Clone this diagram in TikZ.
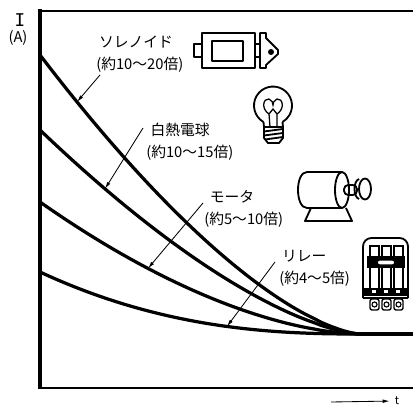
\documentclass[tikz,border=0pt]{standalone}
\usepackage{fontspec}
\usepackage{tikz}
\usetikzlibrary{arrows.meta,positioning}
\newfontfamily\jpfont{Noto Sans CJK JP}
\newfontfamily\iafont{DejaVu Sans Mono}

\begin{document}
\begin{tikzpicture}[
			x=0.025cm, y=-0.025cm,
			every node/.style={font=\jpfont\fontsize{10.5}{15.6}\selectfont, inner sep=0pt},
			lbl/.style={anchor=north west, align=left},
			curve/.style={line width=2.3pt, line join=round},
			lead/.style={line width=0.6pt, -{Latex[length=5pt,width=2.6pt]}},
			icon/.style={line width=1.3pt, line join=round},
			declare function = {fsol(\x) = 334 - 279*(1-(\x-40)/320)^1.5;},
			declare function = {fbulb(\x) = 334 - 204*(1-(\x-40)/320)^1.5;},
			declare function = {fmot(\x) = 334 - 132*(1-(\x-40)/320)^1.7;},
			declare function = {frel(\x) = 334 - 62*(1-(\x-40)/320)^2.4;}
			]
				\useasboundingbox (0,0) rectangle (413,406);

				% frame
				\draw[line width=1.1pt] (38,11) -- (413,11);
				\draw[line width=1.1pt] (38,388) -- (413,388);
				\draw[line width=2.8pt] (40,9) -- (40,389);

				\node (ilbl) at (20,20.5) {\iafont\fontsize{12.5}{12.5}\selectfont I};
				\node (albl) at (18,38) {(A)};

				\node (tlbl) at (397,401) {\fontsize{8}{8}\selectfont t};
				\coordinate (tfrom) at (331,402);
				\draw[line width=0.6pt, -{Latex[length=5pt,width=2.6pt]}, shorten >=3.5pt] (tfrom) -- (tlbl.west);

				% curves
				\draw[curve,smooth,domain=40:358,samples=60,variable=\x] plot (\x,{fsol(\x)}) -- (413,334);
				\draw[curve,smooth,domain=40:358,samples=60,variable=\x] plot (\x,{fbulb(\x)}) -- (413,334);
				\draw[curve,smooth,domain=40:358,samples=60,variable=\x] plot (\x,{fmot(\x)}) -- (413,334);
				\draw[curve,smooth,domain=40:358,samples=60,variable=\x] plot (\x,{frel(\x)}) -- (413,334);

				% labels
				\node[lbl] (sollbl) at (96,35.5) {\hspace*{2pt}ソレノイド\\(約10〜20倍)};
				\node[lbl] (bulblbl) at (146,122.5) {\hspace*{3pt}白熱電球\\(約10〜15倍)};
				\node[lbl] (motlbl) at (204,190.5) {\hspace*{4pt}モータ\\(約5〜10倍)};
				\node[lbl] (rellbl) at (279,250.5) {\hspace*{2pt}リレー\\(約4〜5倍)};

				\coordinate (solpt) at (77,{fsol(77)});
				\coordinate (bulbpt) at (105,{fbulb(105)});
				\coordinate (motpt) at (148,{fmot(148)});
				\coordinate (relpt) at (227,{frel(227)});

				\draw[lead] ([shift={(4,2.5)}]sollbl.south west) -- (solpt);
				\draw[lead] ([shift={(-3,5.5)}]bulblbl.north west) -- (bulbpt);
				\draw[lead] ([shift={(-1,12.5)}]motlbl.north west) -- (motpt);
				\draw[lead] ([shift={(-4,11.5)}]rellbl.north west) -- (relpt);

				% solenoid
				\draw[icon] (194,44) rectangle (202,57);
				\draw[icon] (202,33) rectangle (255,68);
				\draw[icon] (212,41) rectangle (243,61);
				\draw[icon] (255,44) rectangle (260,57);
				\draw[icon] (260,33) -- (266,33) -- (266,38) -- (278,50) -- (278,54) -- (266,65) -- (266,68) -- (260,68) -- cycle;
				\fill (271,52) circle[radius=3];

				% bulb
				\draw[icon] (263.5,122) arc[start angle=120, end angle=420, radius=19];
				\draw[icon] (263.5,122) -- (264,127) -- (264,138) -- (268,143) -- (279,143) -- (283,138) -- (283,127) -- (282.5,122);
				\draw[icon] (264,127) -- (283,127);
				\draw[icon] (264,131.5) -- (283,129);
				\draw[icon] (264,135.5) -- (283,133);
				\draw[icon] (265,139.5) -- (283,137);
				\draw[line width=0.9pt] (270,127) -- (269,114) .. controls (261,109) and (263,98) .. (269,99) .. controls (272,100) and (273,103) .. (273,105) .. controls (273,103) and (274,100) .. (277,99) .. controls (283,98) and (285,109) .. (277,114) -- (277,127);
				\draw[line width=0.9pt] (269,114) -- (273,109) -- (277,114);

				% motor
				\draw[icon] (342,172) -- (307,172) .. controls (295,172) and (295,208) .. (307,208) -- (342,208);
				\draw[icon] (342,190) ellipse[x radius=7, y radius=18];
				\draw[icon, rounded corners=3] (344,185) rectangle (357,195);
				\draw[icon] (359,179) .. controls (353,181) and (353,197) .. (359,199);
				\draw[icon] (365,189) ellipse[x radius=6, y radius=10.5];
				\draw[icon] (311,208) -- (305,221) -- (352,221) -- (346,208);

				% relay
				\draw[icon, rounded corners=6] (363,298) -- (363,238) -- (408,238) -- (408,298);
				\draw[icon] (363,298) -- (408,298);
				\foreach \sx in {370,382,394}
					\draw[line width=0.8pt] (\sx,246) rectangle ++(9,44);
				\fill (367,256) rectangle (405,268);
				\filldraw[fill=white, line width=0.8pt, rounded corners=2] (377,260) rectangle (395,265);
				\fill (363,288) rectangle (408,296);
				\foreach \sx in {372,384,396}
					\fill[white] (\sx,290) rectangle ++(4,3);
				\foreach \sx in {370,382,394} {
					\draw[line width=1pt, rounded corners=1.5] (\sx,299) rectangle ++(9,11);
					\draw[line width=0.8pt] (\sx+4.5,304.5) circle[radius=2.5];
				}

			\end{tikzpicture}
\end{document}
